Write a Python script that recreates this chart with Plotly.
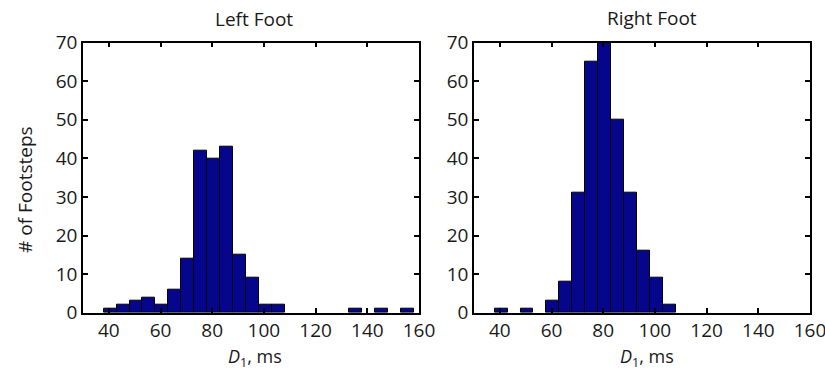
import plotly.graph_objects as go

# Histogram bins: left edges (ms) and width
bin_width = 5
left_bin_starts = [38, 43, 48, 53, 58, 63, 68, 73, 78, 83, 88, 93, 98, 103, 133, 143, 153]
left_counts = [1, 2, 3, 4, 2, 6, 14, 42, 40, 43, 15, 9, 2, 2, 1, 1, 1]

right_bin_starts = [38, 48, 58, 63, 68, 73, 78, 83, 88, 93, 98, 103]
right_counts = [1, 1, 3, 8, 31, 65, 71, 50, 31, 16, 9, 2]

x_ticks = [40, 60, 80, 100, 120, 140, 160]
y_ticks = [0, 10, 20, 30, 40, 50, 60, 70]

bar_color = "#06068c"
font_family = "Open Sans, Noto Sans, sans-serif"
text_color = "#1a1a1a"

fig = go.Figure()
fig.add_trace(go.Bar(x=left_bin_starts, y=left_counts, width=bin_width, offset=0,
                     marker=dict(color=bar_color, line=dict(color="black", width=1)),
                     xaxis="x", yaxis="y", showlegend=False))
fig.add_trace(go.Bar(x=right_bin_starts, y=right_counts, width=bin_width, offset=0,
                     marker=dict(color=bar_color, line=dict(color="black", width=1)),
                     xaxis="x2", yaxis="y2", showlegend=False))

W, H = 825, 370
def px_x(p):
    return p / W
def px_y(p):
    return 1 - p / H

axis_common = dict(showline=True, linecolor="black", linewidth=1.5, mirror="ticks",
                   ticks="inside", ticklen=5, tickwidth=1.5, tickcolor="black",
                   showgrid=False, zeroline=False, automargin=False,
                   ticklabeloverflow="allow",
                   tickfont=dict(family=font_family, size=19, color=text_color))

fig.update_layout(
    width=W, height=H,
    margin=dict(l=0, r=0, t=0, b=0, autoexpand=False),
    paper_bgcolor="white", plot_bgcolor="white",
    bargap=0,
    xaxis=dict(domain=[px_x(83), px_x(419)], range=[30, 160], tickvals=x_ticks,
               anchor="y", ticklabelstandoff=0, **axis_common),
    yaxis=dict(domain=[px_y(312.7), px_y(42.7)], range=[0, 70], tickvals=y_ticks,
               anchor="x", **axis_common),
    xaxis2=dict(domain=[px_x(474), px_x(810)], range=[30, 160], tickvals=x_ticks,
                anchor="y2", ticklabelstandoff=0, **axis_common),
    yaxis2=dict(domain=[px_y(312.7), px_y(42.7)], range=[0, 70], tickvals=y_ticks,
                anchor="x2", **axis_common),
)

title_font = dict(family=font_family, size=19, color=text_color)
axis_title_font = dict(family=font_family, size=18, color=text_color)
annotations = [
    dict(text="Left Foot", x=px_x(254), y=px_y(19), xref="paper", yref="paper",
         showarrow=False, font=title_font, xanchor="center", yanchor="middle"),
    dict(text="Right Foot", x=px_x(652), y=px_y(18), xref="paper", yref="paper",
         showarrow=False, font=title_font, xanchor="center", yanchor="middle"),
    dict(text="<i>D</i><sub>1</sub>, ms", x=px_x(255), y=px_y(357), xref="paper", yref="paper",
         showarrow=False, font=axis_title_font, xanchor="center", yanchor="middle"),
    dict(text="<i>D</i><sub>1</sub>, ms", x=px_x(647), y=px_y(357), xref="paper", yref="paper",
         showarrow=False, font=axis_title_font, xanchor="center", yanchor="middle"),
    dict(text="# of Footsteps", x=px_x(25), y=px_y(190), xref="paper", yref="paper",
         showarrow=False, font=title_font, textangle=-90, xanchor="center", yanchor="middle"),
]
fig.update_layout(annotations=annotations)

fig.write_html("out.html")
